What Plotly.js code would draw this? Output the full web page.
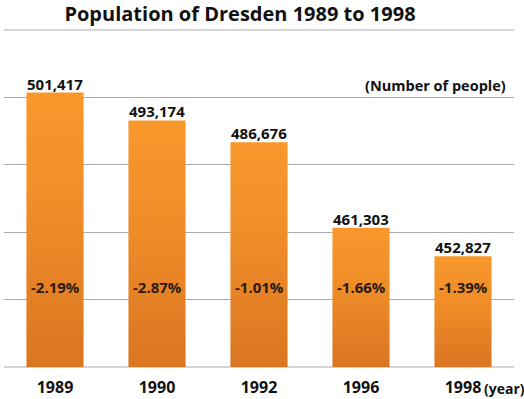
<!DOCTYPE html>
<html>
<head>
<meta charset="utf-8">
<script src="https://cdn.plot.ly/plotly-3.0.1.min.js"></script>
<style>
html,body{margin:0;padding:0;background:#fff;}
#chart{width:524px;height:399px;}
</style>
</head>
<body>
<div id="chart"></div>
<script>
const years = ["1989", "1990", "1992", "1996", "1998"];
const population = [501417, 493174, 486676, 461303, 452827];
const populationLabels = ["501,417", "493,174", "486,676", "461,303", "452,827"];
const changeLabels = ["-2.19%", "-2.87%", "-1.01%", "-1.66%", "-1.39%"];

const FONT = "Open Sans, Noto Sans, sans-serif";
const M = {l: 4, r: 10, t: 30, b: 32};
const plotW = 524 - M.l - M.r, plotH = 399 - M.t - M.b;
const Y_MIN = 420000, Y_MAX = 520000;

const trace = {
  type: "bar",
  x: years,
  y: population.map(v => v - Y_MIN),
  base: Y_MIN,
  marker: {color: "#EE8A27", line: {width: 0}},
  hoverinfo: "none"
};

// value labels above bars
const annotations = populationLabels.map((t, i) => ({
  x: i, xref: "x", y: population[i], yref: "y",
  yshift: 9,
  text: "<b>" + t + "</b>", showarrow: false,
  font: {family: FONT, size: 15, color: "#111111"},
  xanchor: "center", yanchor: "middle"
}));

// percent labels inside bars
changeLabels.forEach((t, i) => annotations.push({
  x: i, xref: "x",
  y: (367 - 287) / plotH, yref: "paper",
  text: "<b>" + t + "</b>",
  showarrow: false,
  font: {family: FONT, size: 15, color: "#2b1a0c"},
  xanchor: "center", yanchor: "middle"
}));

annotations.push({
  x: (508 - M.l) / plotW, xref: "paper",
  y: (367 - 85) / plotH, yref: "paper",
  text: "<b>(Number of people)</b>", showarrow: false,
  font: {family: FONT, size: 14.5, color: "#111111"},
  xanchor: "right", yanchor: "middle"
});

annotations.push({
  x: 4, xref: "x", xshift: 19,
  y: 0, yref: "paper", yshift: -21,
  text: "<b>(year)</b>", showarrow: false,
  font: {family: FONT, size: 14, color: "#111111"},
  xanchor: "left", yanchor: "middle"
});

const layout = {
  width: 524, height: 399,
  margin: M,
  paper_bgcolor: "#ffffff", plot_bgcolor: "#ffffff",
  showlegend: false,
  bargap: 0.44,
  title: {
    text: "<b>Population of Dresden 1989 to 1998</b>",
    font: {family: FONT, size: 20, color: "#111111"},
    xref: "container", x: 240/524, xanchor: "center",
    yref: "container", y: 1 - 14/399, yanchor: "middle"
  },
  xaxis: {
    type: "category",
    range: [-0.5, 4.5],
    showgrid: false, zeroline: false, showline: false, ticks: "",
    ticklabelstandoff: 9,
    tickfont: {family: FONT, size: 16, color: "#111111", weight: "bold"}
  },
  yaxis: {
    range: [Y_MIN, Y_MAX],
    dtick: 20000, tick0: Y_MIN,
    showgrid: true, gridcolor: "#ababab", gridwidth: 1,
    showticklabels: false, zeroline: false, showline: false, ticks: ""
  },
  shapes: [0, 1].map(v => ({
    type: "line", xref: "paper", yref: "paper", x0: 0, x1: 1, y0: v, y1: v,
    line: {color: "#ababab", width: 1}, layer: "below"
  })),
  annotations: annotations
};

function applyGradient(gd) {
  const svg = gd.querySelector("svg.main-svg");
  if (!svg) return;
  const ns = "http://www.w3.org/2000/svg";
  if (!svg.querySelector("#barGrad")) {
    let defs = svg.querySelector("defs");
    if (!defs) { defs = document.createElementNS(ns, "defs"); svg.insertBefore(defs, svg.firstChild); }
    const grad = document.createElementNS(ns, "linearGradient");
    grad.setAttribute("id", "barGrad");
    grad.setAttribute("x1", "0"); grad.setAttribute("y1", "0");
    grad.setAttribute("x2", "0"); grad.setAttribute("y2", "1");
    [["0", "#F8982C"], ["0.45", "#EF8C28"], ["1", "#DA7522"]].forEach(([o, c]) => {
      const s = document.createElementNS(ns, "stop");
      s.setAttribute("offset", o); s.setAttribute("stop-color", c);
      grad.appendChild(s);
    });
    defs.appendChild(grad);
  }
  gd.querySelectorAll("g.point path").forEach(p => {
    p.style.setProperty("fill", "url(#barGrad)", "important");
  });
}

const gd = document.getElementById("chart");
const pr = Plotly.newPlot(gd, [trace], layout, {staticPlot: true, displayModeBar: false});
applyGradient(gd);
pr.then(() => applyGradient(gd));
</script>
</body>
</html>
